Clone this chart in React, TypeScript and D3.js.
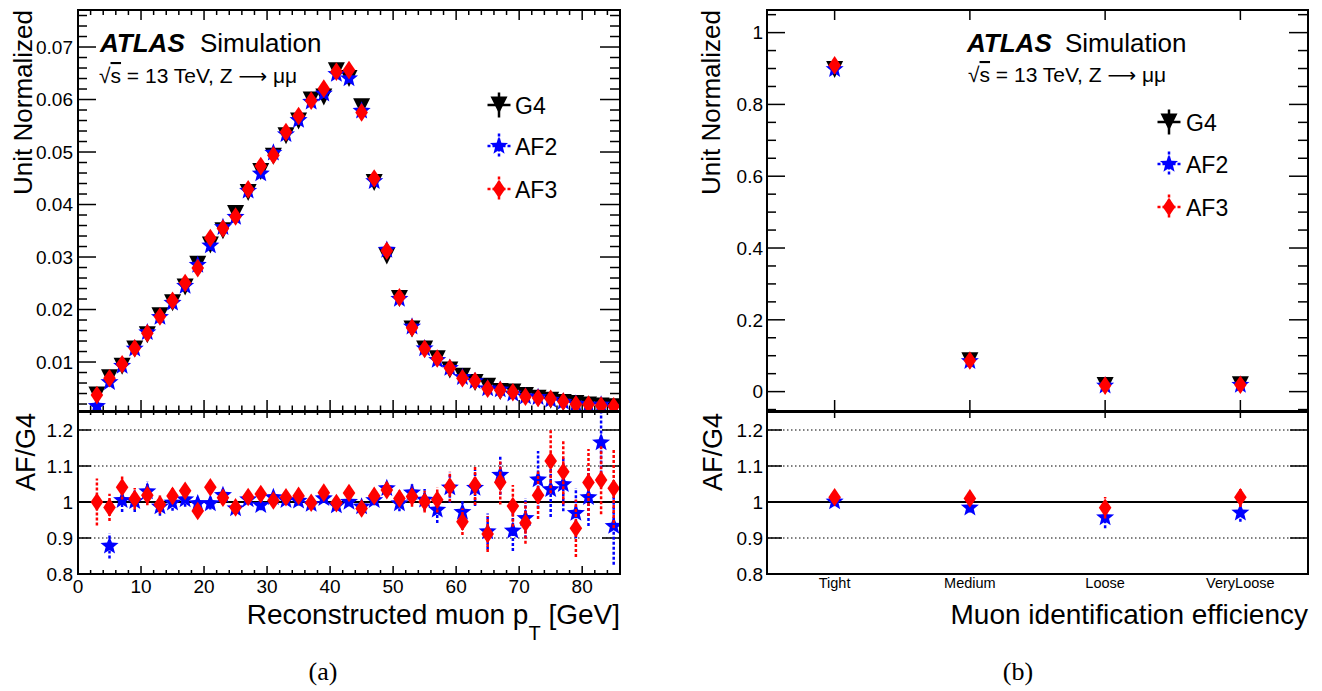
import React from "react";
import * as d3 from "d3";

// ---------- data (panel a: muon pT) ----------
const ptBinCenters = [3, 5, 7, 9, 11, 13, 15, 17, 19, 21, 23, 25, 27, 29, 31, 33, 35, 37, 39, 41, 43, 45, 47, 49, 51, 53, 55, 57, 59, 61, 63, 65, 67, 69, 71, 73, 75, 77, 79, 81, 83, 85];
const g4Pt = [0.0037, 0.0070, 0.0092, 0.0125, 0.0152, 0.0188, 0.0213, 0.0243, 0.0286, 0.0323, 0.0350, 0.0383, 0.0423, 0.0463, 0.0492, 0.0531, 0.0559, 0.0599, 0.0605, 0.0655, 0.0640, 0.0586, 0.0442, 0.0302, 0.0221, 0.0163, 0.0125, 0.0106, 0.0085, 0.0073, 0.0061, 0.0054, 0.0044, 0.0043, 0.0036, 0.0031, 0.0027, 0.0023, 0.0021, 0.0018, 0.0016, 0.0015];
const af2RatioPt = [0.43, 0.878, 1.005, 1.002, 1.029, 0.987, 0.998, 1.007, 0.996, 0.996, 1.019, 0.982, 1.007, 0.991, 1.013, 1.005, 1.003, 0.994, 1.01, 0.99, 1.0, 0.987, 1.005, 1.038, 0.996, 1.026, 1.006, 0.978, 1.04, 0.972, 1.039, 0.918, 1.075, 0.92, 0.955, 1.062, 1.035, 1.049, 0.969, 1.013, 1.165, 0.933];
const af3RatioPt = [1.0, 0.985, 1.041, 1.009, 1.019, 0.993, 1.017, 1.031, 0.975, 1.041, 1.012, 0.985, 1.014, 1.022, 1.004, 1.013, 1.017, 0.998, 1.026, 0.997, 1.025, 0.982, 1.017, 1.033, 1.01, 1.015, 1.001, 1.006, 1.043, 0.945, 1.047, 0.911, 1.055, 0.989, 0.942, 1.019, 1.114, 1.084, 0.927, 1.054, 1.061, 1.038];
const af2ErrPt = [0.07, 0.035, 0.033, 0.03, 0.028, 0.025, 0.022, 0.02, 0.018, 0.017, 0.016, 0.015, 0.014, 0.014, 0.013, 0.013, 0.013, 0.012, 0.012, 0.012, 0.012, 0.012, 0.014, 0.017, 0.022, 0.027, 0.03, 0.036, 0.042, 0.034, 0.05, 0.05, 0.055, 0.056, 0.056, 0.08, 0.077, 0.075, 0.07, 0.08, 0.1, 0.107];
const af3ErrPt = [0.065, 0.038, 0.034, 0.03, 0.028, 0.025, 0.022, 0.02, 0.018, 0.017, 0.016, 0.015, 0.014, 0.014, 0.013, 0.013, 0.013, 0.012, 0.012, 0.012, 0.012, 0.012, 0.014, 0.017, 0.022, 0.028, 0.03, 0.035, 0.042, 0.037, 0.055, 0.05, 0.062, 0.058, 0.058, 0.066, 0.09, 0.09, 0.08, 0.093, 0.095, 0.11];

// ---------- data (panel b: muon ID) ----------
const idCategories = ["Tight", "Medium", "Loose", "VeryLoose"];
const g4Id = [0.897, 0.086, 0.017, 0.019];
const af2RatioId = [1.001, 0.984, 0.957, 0.97];
const af3RatioId = [1.013, 1.01, 0.984, 1.013];
const af2ErrId = [0.012, 0.013, 0.03, 0.025];
const af3ErrId = [0.013, 0.013, 0.03, 0.027];

// ---------- tick values ----------
const ptTicks = [0, 10, 20, 30, 40, 50, 60, 70, 80];
const unitTicksPt = [0.01, 0.02, 0.03, 0.04, 0.05, 0.06, 0.07];
const unitTicksId = [0, 0.2, 0.4, 0.6, 0.8, 1];
const ratioTicks = [0.8, 0.9, 1, 1.1, 1.2];
const ratioGrid = [0.9, 1.1, 1.2];

const FONT = "'Liberation Sans', Arial, Helvetica, sans-serif";
const SERIF = "'Liberation Serif', 'Times New Roman', serif";
const BLUE = "#0000ff";
const RED = "#ff0000";

const tri = (cx: number, cy: number, r = 8.5) =>
  `M${cx - r},${cy - r}L${cx + r},${cy - r}L${cx},${cy + r}Z`;
const dia = (cx: number, cy: number, hx = 6.3, hy = 9.3) =>
  `M${cx},${cy - hy}L${cx + hx},${cy}L${cx},${cy + hy}L${cx - hx},${cy}Z`;
const star = (cx: number, cy: number, R = 9.5, ri = 4.1) => {
  const pts: string[] = [];
  for (let k = 0; k < 10; k++) {
    const a = -Math.PI / 2 + (k * Math.PI) / 5;
    const rr = k % 2 === 0 ? R : ri;
    pts.push(`${cx + rr * Math.cos(a)},${cy + rr * Math.sin(a)}`);
  }
  return "M" + pts.join("L") + "Z";
};

const fmt = d3.format("~g");

function LegendRow({ x, y, kind, label, tx }: { x: number; y: number; kind: string; label: string; tx: number }) {
  const color = kind === "g4" ? "#000" : kind === "af2" ? BLUE : RED;
  const dash = kind === "g4" ? undefined : "3,2";
  const d = kind === "g4" ? tri(x, y) : kind === "af2" ? star(x, y) : dia(x, y);
  return (
    <g>
      <line x1={x - 11.5} x2={x + 11.5} y1={y} y2={y} stroke={color} strokeWidth={2.5} strokeDasharray={dash} />
      <line x1={x} x2={x} y1={y - 12.5} y2={y + 12.5} stroke={color} strokeWidth={2.5} strokeDasharray={dash} />
      <path d={d} fill={color} />
      <text x={tx} y={y + 8.5} fontSize={23} fontFamily={FONT}>{label}</text>
    </g>
  );
}

function Energy({ x, y }: { x: number; y: number }) {
  return (
    <text x={x} y={y} fontSize={21}>
      √<tspan style={{ textDecoration: "overline" }}>s</tspan> = 13 TeV, Z{" "}
      <tspan fontFamily="'DejaVu Sans', sans-serif" fontSize={20}>⟶</tspan> μμ
    </text>
  );
}

export default function App() {
  // panel a geometry
  const xL = d3.scaleLinear().domain([0, 86]).range([78, 620]);
  const yLU = d3.scaleLinear().domain([0.00067, 0.07705]).range([411, 10]);
  const yLR = d3.scaleLinear().domain([0.8, 1.25]).range([574, 412]);
  // panel b geometry
  const xR = d3.scaleBand<string>().domain(idCategories).range([767, 1308]);
  const cR = (c: string) => (xR(c) as number) + xR.bandwidth() / 2;
  const yRU = d3.scaleLinear().domain([-0.054, 1.063]).range([411, 10]);
  const yRR = d3.scaleLinear().domain([0.8, 1.25]).range([574, 412]);

  const ptMinor = d3.range(0, 87, 2).filter((v) => v % 10 !== 0);
  const unitMinorPt = d3.range(1, 39).map((i) => i * 0.002).filter((v) => Math.abs(v * 100 - Math.round(v * 100)) > 1e-6);
  const unitMinorId = d3.range(-1, 22).map((i) => i * 0.05).filter((v) => Math.abs(v * 5 - Math.round(v * 5)) > 1e-6 && v > -0.054 && v < 1.063);

  const af2Pt = g4Pt.map((v, i) => v * af2RatioPt[i]);
  const af3Pt = g4Pt.map((v, i) => v * af3RatioPt[i]);
  const af2Id = g4Id.map((v, i) => v * af2RatioId[i]);
  const af3Id = g4Id.map((v, i) => v * af3RatioId[i]);

  const L = { x0: 78, x1: 620 };
  const R = { x0: 767, x1: 1308 };

  return (
    <svg width={1322} height={691} style={{ position: "absolute", left: 0, top: 0, background: "#fff" }} fontFamily={FONT}>
      <defs>
        <clipPath id="clipLU"><rect x={L.x0} y={10} width={L.x1 - L.x0} height={401} /></clipPath>
        <clipPath id="clipLR"><rect x={L.x0} y={412} width={L.x1 - L.x0} height={162} /></clipPath>
        <clipPath id="clipRU"><rect x={R.x0} y={10} width={R.x1 - R.x0} height={401} /></clipPath>
        <clipPath id="clipRR"><rect x={R.x0} y={412} width={R.x1 - R.x0} height={162} /></clipPath>
      </defs>
      <rect x={0} y={0} width={1322} height={691} fill="#fff" />

      {/* ================= PANEL A ================= */}
      {ratioGrid.map((v) => (
        <line key={"lg" + v} x1={L.x0} x2={L.x1} y1={yLR(v)} y2={yLR(v)} stroke="#000" strokeWidth={1} strokeDasharray="1.5,2.5" />
      ))}
      <line x1={L.x0} x2={L.x1} y1={yLR(1)} y2={yLR(1)} stroke="#000" strokeWidth={2} />

      {unitTicksPt.map((v) => (
        <g key={"lut" + v}>
          <line x1={L.x0} x2={L.x0 + 18} y1={yLU(v)} y2={yLU(v)} stroke="#000" strokeWidth={1.5} />
          <line x1={L.x1} x2={L.x1 - 20} y1={yLU(v)} y2={yLU(v)} stroke="#000" strokeWidth={1.5} />
          <text x={73} y={yLU(v)} dy="0.36em" textAnchor="end" fontSize={19}>{fmt(v)}</text>
        </g>
      ))}
      {unitMinorPt.map((v) => (
        <g key={"lum" + v}>
          <line x1={L.x0} x2={L.x0 + 9} y1={yLU(v)} y2={yLU(v)} stroke="#000" strokeWidth={1.5} />
          <line x1={L.x1} x2={L.x1 - 10} y1={yLU(v)} y2={yLU(v)} stroke="#000" strokeWidth={1.5} />
        </g>
      ))}
      {ptTicks.map((v) => (
        <g key={"lxt" + v}>
          <line x1={xL(v)} x2={xL(v)} y1={411} y2={400} stroke="#000" strokeWidth={1.5} />
          <line x1={xL(v)} x2={xL(v)} y1={10} y2={20} stroke="#000" strokeWidth={1.5} />
          <line x1={xL(v)} x2={xL(v)} y1={412} y2={418} stroke="#000" strokeWidth={1.5} />
          <line x1={xL(v)} x2={xL(v)} y1={574} y2={566} stroke="#000" strokeWidth={1.5} />
          <text x={xL(v)} y={593} textAnchor="middle" fontSize={19}>{v}</text>
        </g>
      ))}
      {ptMinor.map((v) => (
        <g key={"lxm" + v}>
          <line x1={xL(v)} x2={xL(v)} y1={411} y2={405.5} stroke="#000" strokeWidth={1.5} />
          <line x1={xL(v)} x2={xL(v)} y1={10} y2={15} stroke="#000" strokeWidth={1.5} />
          <line x1={xL(v)} x2={xL(v)} y1={412} y2={415} stroke="#000" strokeWidth={1.5} />
          <line x1={xL(v)} x2={xL(v)} y1={574} y2={570} stroke="#000" strokeWidth={1.5} />
        </g>
      ))}
      {ratioTicks.map((v) => (
        <g key={"lrt" + v}>
          <line x1={L.x0} x2={L.x0 + 13} y1={yLR(v)} y2={yLR(v)} stroke="#000" strokeWidth={1.5} />
          <line x1={L.x1} x2={L.x1 - 18} y1={yLR(v)} y2={yLR(v)} stroke="#000" strokeWidth={1.5} />
          <text x={73} y={yLR(v)} dy="0.36em" textAnchor="end" fontSize={19}>{fmt(v)}</text>
        </g>
      ))}

      <g clipPath="url(#clipLU)">
        {ptBinCenters.map((x, i) => <path key={"g4p" + i} d={tri(xL(x), yLU(g4Pt[i]))} fill="#000" />)}
        {ptBinCenters.map((x, i) => <path key={"a2p" + i} d={star(xL(x), yLU(af2Pt[i]))} fill={BLUE} />)}
        {ptBinCenters.map((x, i) => <path key={"a3p" + i} d={dia(xL(x), yLU(af3Pt[i]))} fill={RED} />)}
      </g>
      <g clipPath="url(#clipLR)">
        {ptBinCenters.map((x, i) => (
          <g key={"a2r" + i}>
            <line x1={xL(x)} x2={xL(x)} y1={yLR(af2RatioPt[i] - af2ErrPt[i])} y2={yLR(af2RatioPt[i] + af2ErrPt[i])} stroke={BLUE} strokeWidth={2.5} strokeDasharray="3,2" />
            <path d={star(xL(x), yLR(af2RatioPt[i]))} fill={BLUE} />
          </g>
        ))}
        {ptBinCenters.map((x, i) => (
          <g key={"a3r" + i}>
            <line x1={xL(x)} x2={xL(x)} y1={yLR(af3RatioPt[i] - af3ErrPt[i])} y2={yLR(af3RatioPt[i] + af3ErrPt[i])} stroke={RED} strokeWidth={2.5} strokeDasharray="3,2" />
            <path d={dia(xL(x), yLR(af3RatioPt[i]))} fill={RED} />
          </g>
        ))}
      </g>

      <rect x={L.x0} y={10} width={L.x1 - L.x0} height={401} fill="none" stroke="#000" strokeWidth={2} />
      <rect x={L.x0} y={412} width={L.x1 - L.x0} height={162} fill="none" stroke="#000" strokeWidth={2} />

      <text x={100} y={52} fontSize={26} fontWeight="bold" fontStyle="italic">ATLAS</text>
      <text x={200} y={52} fontSize={26}>Simulation</text>
      <Energy x={99} y={83} />
      <LegendRow x={499} y={105} kind="g4" label="G4" tx={515} />
      <LegendRow x={499} y={146} kind="af2" label="AF2" tx={515} />
      <LegendRow x={499} y={189} kind="af3" label="AF3" tx={515} />
      <text transform="translate(32,10) rotate(-90)" textAnchor="end" fontSize={26}>Unit Normalized</text>
      <text transform="translate(35,413) rotate(-90)" textAnchor="end" fontSize={27}>AF/G4</text>
      <text x={620} y={624} textAnchor="end" fontSize={28}>
        Reconstructed muon p<tspan fontSize={20} dy={16}>T</tspan><tspan dy={-16}> [GeV]</tspan>
      </text>
      <text x={323} y={680} textAnchor="middle" fontSize={26} fontFamily={SERIF}>(a)</text>

      {/* ================= PANEL B ================= */}
      {ratioGrid.map((v) => (
        <line key={"rg" + v} x1={R.x0} x2={R.x1} y1={yRR(v)} y2={yRR(v)} stroke="#000" strokeWidth={1} strokeDasharray="1.5,2.5" />
      ))}
      <line x1={R.x0} x2={R.x1} y1={yRR(1)} y2={yRR(1)} stroke="#000" strokeWidth={2} />

      {unitTicksId.map((v) => (
        <g key={"rut" + v}>
          <line x1={R.x0} x2={R.x0 + 18} y1={yRU(v)} y2={yRU(v)} stroke="#000" strokeWidth={1.5} />
          <line x1={R.x1} x2={R.x1 - 19} y1={yRU(v)} y2={yRU(v)} stroke="#000" strokeWidth={1.5} />
          <text x={763} y={yRU(v)} dy="0.36em" textAnchor="end" fontSize={19}>{fmt(v)}</text>
        </g>
      ))}
      {unitMinorId.map((v) => (
        <g key={"rum" + v}>
          <line x1={R.x0} x2={R.x0 + 9} y1={yRU(v)} y2={yRU(v)} stroke="#000" strokeWidth={1.5} />
          <line x1={R.x1} x2={R.x1 - 10} y1={yRU(v)} y2={yRU(v)} stroke="#000" strokeWidth={1.5} />
        </g>
      ))}
      {idCategories.map((c) => (
        <g key={"rxt" + c}>
          <line x1={cR(c)} x2={cR(c)} y1={10} y2={20} stroke="#000" strokeWidth={1.5} />
          <line x1={cR(c)} x2={cR(c)} y1={411} y2={400} stroke="#000" strokeWidth={1.5} />
          <line x1={cR(c)} x2={cR(c)} y1={412} y2={418} stroke="#000" strokeWidth={1.5} />
          <text x={cR(c)} y={588} textAnchor="middle" fontSize={14.5}>{c}</text>
        </g>
      ))}
      {ratioTicks.map((v) => (
        <g key={"rrt" + v}>
          <line x1={R.x0} x2={R.x0 + 15} y1={yRR(v)} y2={yRR(v)} stroke="#000" strokeWidth={1.5} />
          <line x1={R.x1} x2={R.x1 - 18} y1={yRR(v)} y2={yRR(v)} stroke="#000" strokeWidth={1.5} />
          <text x={763} y={yRR(v)} dy="0.36em" textAnchor="end" fontSize={19}>{fmt(v)}</text>
        </g>
      ))}

      <g clipPath="url(#clipRU)">
        {idCategories.map((c, i) => <path key={"g4i" + i} d={tri(cR(c), yRU(g4Id[i]))} fill="#000" />)}
        {idCategories.map((c, i) => <path key={"a2i" + i} d={star(cR(c), yRU(af2Id[i]))} fill={BLUE} />)}
        {idCategories.map((c, i) => <path key={"a3i" + i} d={dia(cR(c), yRU(af3Id[i]))} fill={RED} />)}
      </g>
      <g clipPath="url(#clipRR)">
        {idCategories.map((c, i) => (
          <g key={"a2ri" + i}>
            <line x1={cR(c)} x2={cR(c)} y1={yRR(af2RatioId[i] - af2ErrId[i])} y2={yRR(af2RatioId[i] + af2ErrId[i])} stroke={BLUE} strokeWidth={2.5} strokeDasharray="3,2" />
            <path d={star(cR(c), yRR(af2RatioId[i]))} fill={BLUE} />
          </g>
        ))}
        {idCategories.map((c, i) => (
          <g key={"a3ri" + i}>
            <line x1={cR(c)} x2={cR(c)} y1={yRR(af3RatioId[i] - af3ErrId[i])} y2={yRR(af3RatioId[i] + af3ErrId[i])} stroke={RED} strokeWidth={2.5} strokeDasharray="3,2" />
            <path d={dia(cR(c), yRR(af3RatioId[i]))} fill={RED} />
          </g>
        ))}
      </g>

      <rect x={R.x0} y={10} width={R.x1 - R.x0} height={401} fill="none" stroke="#000" strokeWidth={2} />
      <rect x={R.x0} y={412} width={R.x1 - R.x0} height={162} fill="none" stroke="#000" strokeWidth={2} />

      <text x={967} y={52} fontSize={26} fontWeight="bold" fontStyle="italic">ATLAS</text>
      <text x={1065} y={52} fontSize={26}>Simulation</text>
      <Energy x={968} y={82} />
      <LegendRow x={1169} y={122} kind="g4" label="G4" tx={1186} />
      <LegendRow x={1169} y={164} kind="af2" label="AF2" tx={1186} />
      <LegendRow x={1169} y={207} kind="af3" label="AF3" tx={1186} />
      <text transform="translate(720,10) rotate(-90)" textAnchor="end" fontSize={26}>Unit Normalized</text>
      <text transform="translate(722,413) rotate(-90)" textAnchor="end" fontSize={27}>AF/G4</text>
      <text x={1308} y={624} textAnchor="end" fontSize={28}>Muon identification efficiency</text>
      <text x={1018} y={680} textAnchor="middle" fontSize={26} fontFamily={SERIF}>(b)</text>
    </svg>
  );
}
